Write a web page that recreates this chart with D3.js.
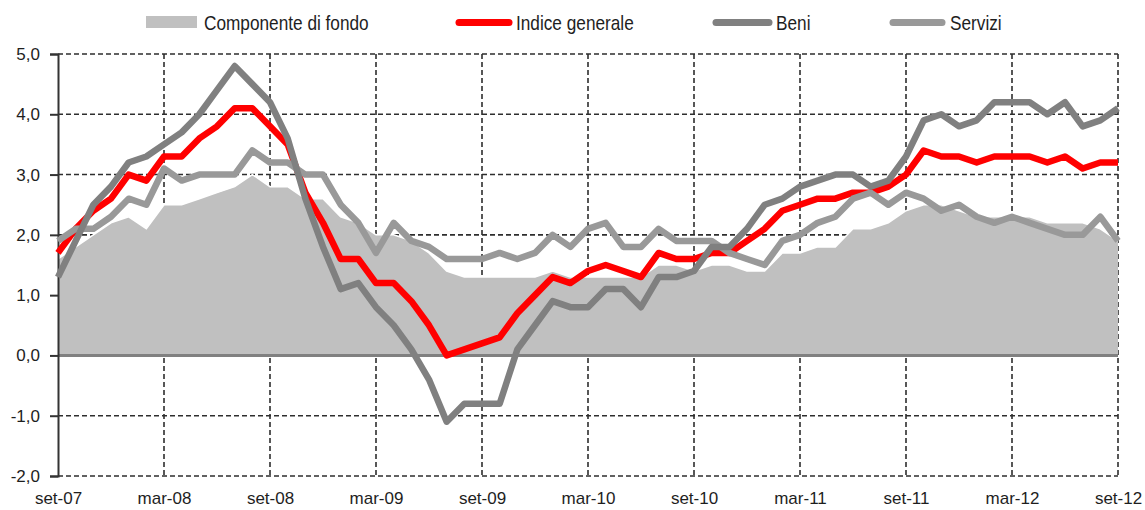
<!DOCTYPE html>
<html lang="it">
<head>
<meta charset="utf-8">
<title>Inflazione: indice generale, beni, servizi</title>
<script src="https://cdn.jsdelivr.net/npm/d3@7"></script>
<style>
  body { margin: 0; background: #fff; }
  svg text { font-family: "Liberation Sans", Arial, sans-serif; fill: #1e1e1e; }
  .legend text { font-family: "Liberation Sans", Arial, sans-serif; font-size: 21px; }
</style>
</head>
<body>
<svg id="chart" width="1145" height="510"></svg>
<script>

// monthly, set-07 .. set-12 (61 months)
var tickLabels = ["set-07","mar-08","set-08","mar-09","set-09","mar-10","set-10","mar-11","set-11","mar-12","set-12"]
var yTicks = [-2, -1, 0, 1, 2, 3, 4, 5]

var fondo = [1.6,1.8,2.0,2.2,2.3,2.1,2.5,2.5,2.6,2.7,2.8,3.0,2.8,2.8,2.6,2.6,2.3,2.2,2.0,2.0,
             1.9,1.7,1.4,1.3,1.3,1.3,1.3,1.3,1.4,1.3,1.3,1.3,1.3,1.3,1.5,1.5,1.4,1.5,1.5,1.4,
             1.4,1.7,1.7,1.8,1.8,2.1,2.1,2.2,2.4,2.5,2.5,2.4,2.3,2.3,2.3,2.3,2.2,2.2,2.2,2.1,1.9]

var indice = [1.7,2.1,2.4,2.6,3.0,2.9,3.3,3.3,3.6,3.8,4.1,4.1,3.8,3.5,2.7,2.2,1.6,1.6,1.2,1.2,
              0.9,0.5,0.0,0.1,0.2,0.3,0.7,1.0,1.3,1.2,1.4,1.5,1.4,1.3,1.7,1.6,1.6,1.7,1.7,1.9,
              2.1,2.4,2.5,2.6,2.6,2.7,2.7,2.8,3.0,3.4,3.3,3.3,3.2,3.3,3.3,3.3,3.2,3.3,3.1,3.2,3.2]

var beni = [1.3,1.9,2.5,2.8,3.2,3.3,3.5,3.7,4.0,4.4,4.8,4.5,4.2,3.6,2.6,1.8,1.1,1.2,0.8,0.5,
            0.1,-0.4,-1.1,-0.8,-0.8,-0.8,0.1,0.5,0.9,0.8,0.8,1.1,1.1,0.8,1.3,1.3,1.4,1.8,1.8,2.1,
            2.5,2.6,2.8,2.9,3.0,3.0,2.8,2.9,3.3,3.9,4.0,3.8,3.9,4.2,4.2,4.2,4.0,4.2,3.8,3.9,4.1]

var servizi = [1.9,2.1,2.1,2.3,2.6,2.5,3.1,2.9,3.0,3.0,3.0,3.4,3.2,3.2,3.0,3.0,2.5,2.2,1.7,2.2,
               1.9,1.8,1.6,1.6,1.6,1.7,1.6,1.7,2.0,1.8,2.1,2.2,1.8,1.8,2.1,1.9,1.9,1.9,1.7,1.6,
               1.5,1.9,2.0,2.2,2.3,2.6,2.7,2.5,2.7,2.6,2.4,2.5,2.3,2.2,2.3,2.2,2.1,2.0,2.0,2.3,1.9]

var svg = d3.select("#chart")

var pLeft = 58, pRight = 1118, pTop = 54, pBottom = 476

var x = d3.scaleLinear().domain([0, fondo.length - 1]).range([pLeft, pRight])
var y = d3.scaleLinear().domain([-2, 5]).range([pBottom, pTop])

var tickIdx = tickLabels.map(function(d, i) { return i * 6 })

/*
 * grid
 */
var grid = svg.append("g")

grid.selectAll(".hgrid").data(yTicks).enter().append("line")
  .attr("x1", pLeft).attr("x2", pRight)
  .attr("y1", function(d) { return y(d) }).attr("y2", function(d) { return y(d) })
  .attr("stroke", "#2e2e2e").attr("stroke-width", 1.6).attr("stroke-dasharray", "5,3")

grid.selectAll(".vgrid").data(tickIdx.slice(1)).enter().append("line")
  .attr("x1", function(d) { return x(d) }).attr("x2", function(d) { return x(d) })
  .attr("y1", pTop).attr("y2", pBottom)
  .attr("stroke", "#2e2e2e").attr("stroke-width", 1.6).attr("stroke-dasharray", "5,3")

/*
 * componente di fondo (area)
 */
var area = d3.area()
  .x(function(d, i) { return x(i) })
  .y0(y(0))
  .y1(function(d) { return y(d) })

svg.append("path").datum(fondo)
  .attr("d", area)
  .attr("fill", "#c0c0c0")

svg.append("path").datum(fondo)
  .attr("d", d3.line().x(function(d, i) { return x(i) }).y(function(d) { return y(d) }))
  .attr("fill", "none").attr("stroke", "#fff").attr("stroke-width", 1.5)

// zero line
svg.append("line")
  .attr("x1", pLeft).attr("x2", pRight)
  .attr("y1", y(0)).attr("y2", y(0))
  .attr("stroke", "#808080").attr("stroke-width", 3)

/*
 * axes
 */
var yAxis = d3.axisLeft(y)
  .tickValues(yTicks)
  .tickSize(8)
  .tickPadding(10)
  .tickFormat(function(d) { return d3.format(".1f")(d).replace(".", ",").replace("−", "-") })

var gY = svg.append("g").attr("transform", "translate(" + pLeft + ",0)").call(yAxis)
gY.select(".domain").attr("stroke", "#333").attr("stroke-width", 2)
gY.selectAll(".tick line").attr("stroke", "#333").attr("stroke-width", 2)
gY.selectAll(".tick text").attr("font-size", 17).attr("font-family", "Liberation Sans, Arial, sans-serif").attr("fill", "#1e1e1e")

var xAxis = d3.axisBottom(x)
  .tickValues(tickIdx)
  .tickSize(0)
  .tickPadding(0)
  .tickFormat(function(d) { return tickLabels[d / 6] })

var gX = svg.append("g").attr("transform", "translate(0," + pBottom + ")").call(xAxis)
gX.select(".domain").remove()
gX.selectAll(".tick text").attr("font-size", 17).attr("y", 28).attr("dy", 0)
  .attr("font-family", "Liberation Sans, Arial, sans-serif").attr("fill", "#1e1e1e")

/*
 * series lines
 */
var line = d3.line()
  .x(function(d, i) { return x(i) })
  .y(function(d) { return y(d) })

var series = [
  { name: "Indice generale", values: indice, color: "#ff0000" },
  { name: "Servizi", values: servizi, color: "#999999" },
  { name: "Beni", values: beni, color: "#808080" }
]

series.forEach(function(s) {
  svg.append("path").datum(s.values)
    .attr("d", line)
    .attr("fill", "none")
    .attr("stroke", s.color)
    .attr("stroke-width", 6.5)
    .attr("stroke-linejoin", "round")
})

/*
 * legend (narrow type: squeeze the glyphs horizontally)
 */
var legend = svg.append("g").attr("class", "legend")

function narrowText(t) {
  var w = t.node().getComputedTextLength()
  t.attr("textLength", w * 0.82).attr("lengthAdjust", "spacingAndGlyphs")
}

legend.append("rect").attr("x", 146).attr("y", 16).attr("width", 51).attr("height", 12).attr("fill", "#c0c0c0")
narrowText(legend.append("text").attr("x", 204).attr("y", 30).text("Componente di fondo"))

var legendLines = [
  { name: "Indice generale", color: "#ff0000", x1: 459, x2: 509, tx: 516 },
  { name: "Beni", color: "#808080", x1: 716, x2: 769, tx: 776 },
  { name: "Servizi", color: "#999999", x1: 893, x2: 942, tx: 950 }
]

legendLines.forEach(function(l) {
  legend.append("line")
    .attr("x1", l.x1).attr("x2", l.x2).attr("y1", 22.5).attr("y2", 22.5)
    .attr("stroke", l.color).attr("stroke-width", 7).attr("stroke-linecap", "round")
  narrowText(legend.append("text").attr("x", l.tx).attr("y", 30).text(l.name))
})

</script>
</body>
</html>
